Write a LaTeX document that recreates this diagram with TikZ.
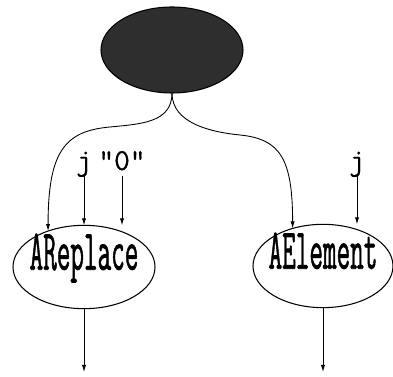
\documentclass[tikz,border=0pt]{standalone}
\usepackage{graphicx}
\usepackage{fontspec}
\newfontfamily\opfont[FakeBold=1.5]{Latin Modern Mono}
\newfontfamily\lblfont[FakeBold=0.6]{Latin Modern Mono}
\usetikzlibrary{arrows.meta,shapes.geometric}
\tikzset{
  opbox/.style={draw, ellipse, line width=0.9pt, minimum width=4.26cm, minimum height=2.5cm, inner sep=0pt, outer sep=0pt, font=\fontsize{49}{49}\selectfont\opfont, text height=0.68em, text depth=0.22em},
  darkbox/.style={opbox, fill=black!82, minimum height=2.58cm},
  lbl/.style={font=\fontsize{26}{26}\selectfont\lblfont, inner sep=2pt, text depth=0.25em, anchor=base},
  flow/.style={-{Latex[length=6pt,width=3.6pt]}, line width=0.75pt}
}
\newcommand{\optext}[1]{\makebox[0pt]{\scalebox{0.46}[1]{#1}}}

\begin{document}
\begin{tikzpicture}[x=0.03cm, y=-0.03cm]
  \useasboundingbox (0,0) rectangle (393,377);
  \node[darkbox] (top) at (172,50) {};
  \node[opbox] (rep) at (84,267) {\optext{AReplace}};
  \node[opbox, minimum width=4.2cm] (ele) at (323,266) {\optext{AElement}};
  \node[lbl] (j1) at (84,170) {j};
  \node[lbl] (zero) at (122,170) {"0"};
  \node[lbl] (j2) at (357,170) {j};
  \coordinate (repout) at (84,372);
  \coordinate (eleout) at (323,372);
  \draw[flow] (top.south) .. controls +(0,30) and +(30,-3) .. (110,127)
    .. controls +(-45,4) and +(0,-80) .. (rep.135);
  \draw[flow] (top.south) .. controls +(0,30) and +(-30,-3) .. (240,135)
    .. controls +(40,4) and +(0,-70) .. (ele.129);
  \draw[flow] (j1) -- (rep);
  \draw[flow] (zero) -- (zero |- rep.north);
  \draw[flow] (j2) -- (j2 |- ele.north);
  \draw[flow] (rep) -- (repout);
  \draw[flow] (ele) -- (eleout);
\end{tikzpicture}
\end{document}
